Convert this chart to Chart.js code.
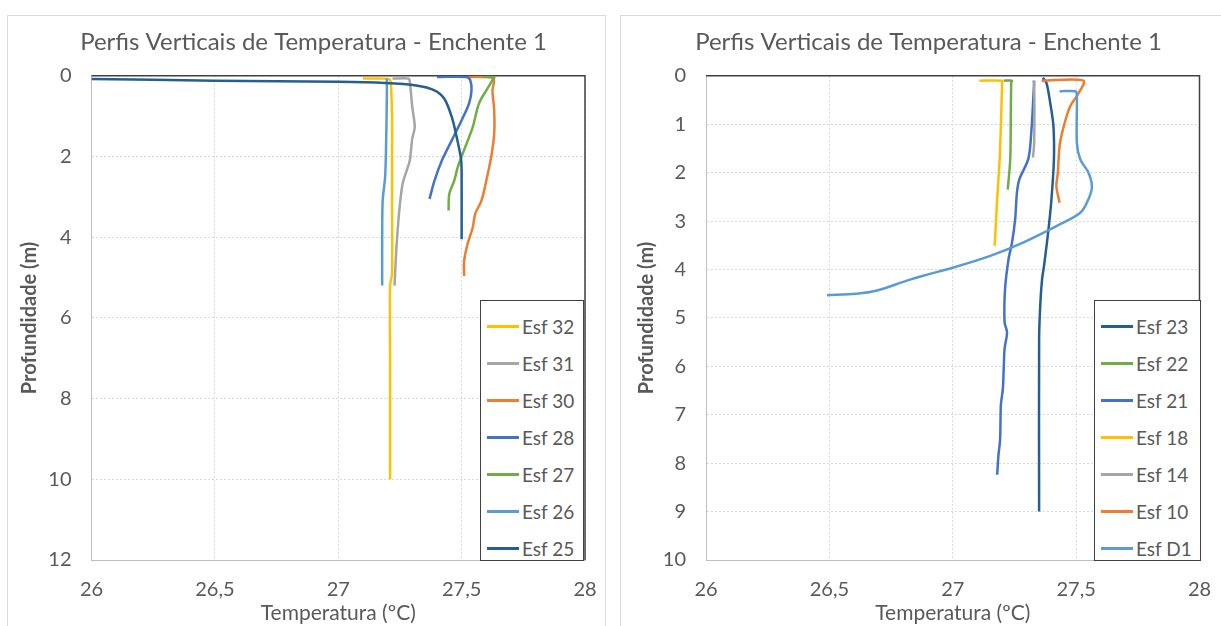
<!DOCTYPE html>
<html>
<head>
<meta charset="utf-8">
<script src="https://cdn.jsdelivr.net/npm/chart.js@4.4.1/dist/chart.umd.min.js"></script>
<style>
  body { margin: 0; background: #fff; width: 1221px; height: 626px; overflow: hidden; position: relative; font-family: Lato, sans-serif; }
  .panel { position: absolute; top: 15px; height: 640px; border: 1px solid #d9d9d9; background: #fff; }
  #panelA { left: 7px; width: 597px; }
  #panelB { left: 620px; width: 620px; }
  canvas { position: absolute; }
  #chartA { left: 8px; top: 16px; }
  #chartB { left: 621px; top: 16px; }
  .legend { position: absolute; border: 1.5px solid #404040; background: #fff; box-sizing: border-box; padding-top: 7px; }
  #legendA { left: 480px; top: 300px; width: 104px; height: 261px; }
  #legendB { left: 1094px; top: 300px; width: 107px; height: 261px; }
  .item { height: 37px; display: flex; align-items: center; font-size: 19px; color: #595959; }
  .swatch { width: 32px; height: 3px; margin: 0 3px 0 6px; }
</style>
</head>
<body>
<div class="panel" id="panelA"></div>
<div class="panel" id="panelB"></div>
<canvas id="chartA" width="596" height="610"></canvas>
<canvas id="chartB" width="600" height="610"></canvas>
<div class="legend" id="legendA"></div>
<div class="legend" id="legendB"></div>
<script>
  const chartTitle = 'Perfis Verticais de Temperatura - Enchente 1';
  const xTitle = 'Temperatura (ºC)';
  const yTitle = 'Profundidade (m)';

  // [temperatura, profundidade] pairs
  // left panel
  const esf32 = [[27.10,0.07],[27.19,0.07],[27.21,0.10],[27.215,0.45],[27.218,1.0],[27.218,2.0],[27.218,3.0],[27.218,4.9],[27.21,5.2],[27.21,7.0],[27.21,10.0]];
  const esf31 = [[27.22,0.07],[27.285,0.07],[27.29,0.15],[27.30,0.77],[27.31,1.27],[27.30,1.55],[27.29,2.1],[27.28,2.3],[27.26,2.7],[27.245,3.5],[27.235,4.35],[27.228,5.2]];
  const esf30 = [[27.52,0.03],[27.585,0.03],[27.63,0.08],[27.625,0.36],[27.632,0.86],[27.632,1.44],[27.62,2.0],[27.60,2.6],[27.58,3.1],[27.555,3.42],[27.545,3.76],[27.524,4.17],[27.51,4.6],[27.51,4.96]];
  const esf28 = [[27.40,0.03],[27.52,0.03],[27.535,0.11],[27.54,0.36],[27.53,0.69],[27.50,1.1],[27.46,1.6],[27.42,2.1],[27.39,2.6],[27.37,3.05]];
  const esf27 = [[27.585,0.03],[27.632,0.03],[27.625,0.11],[27.60,0.36],[27.57,0.69],[27.545,1.27],[27.52,1.68],[27.50,2.0],[27.484,2.27],[27.47,2.6],[27.45,2.93],[27.447,3.34]];
  const esf26 = [[27.197,0.07],[27.197,0.5],[27.194,1.68],[27.19,2.5],[27.18,3.1],[27.178,4.0],[27.178,5.2]];
  const esf25 = [[26.0,0.08],[26.5,0.12],[27.0,0.15],[27.19,0.18],[27.316,0.24],[27.39,0.36],[27.43,0.57],[27.46,1.02],[27.48,1.52],[27.498,2.09],[27.50,2.6],[27.50,4.05]];

  // right panel
  const esf23 = [[27.365,0.04],[27.38,0.15],[27.395,0.56],[27.408,1.04],[27.41,1.73],[27.40,2.55],[27.388,3.17],[27.37,3.92],[27.362,4.2],[27.355,4.7],[27.35,5.44],[27.35,9.0]];
  const esf22 = [[27.206,0.1],[27.24,0.1],[27.237,0.14],[27.235,1.04],[27.233,1.73],[27.223,2.35]];
  const esf21 = [[27.33,0.1],[27.325,0.6],[27.32,1.04],[27.307,1.7],[27.27,2.14],[27.26,2.42],[27.253,2.96],[27.24,3.45],[27.226,3.79],[27.212,4.4],[27.21,5.09],[27.22,5.3],[27.21,5.64],[27.206,6.12],[27.203,6.47],[27.195,6.8],[27.192,7.5],[27.185,7.85],[27.18,8.24]];
  const esf18 = [[27.108,0.1],[27.199,0.1],[27.20,0.12],[27.195,1.04],[27.19,1.73],[27.18,2.55],[27.17,3.51]];
  const esf14 = [[27.325,0.1],[27.33,0.15],[27.33,1.38],[27.325,1.69]];
  const esf10 = [[27.36,0.1],[27.53,0.1],[27.51,0.36],[27.476,0.63],[27.45,1.04],[27.433,1.45],[27.426,2.0],[27.42,2.28],[27.433,2.62]];
  const esfD1 = [[27.433,0.32],[27.497,0.32],[27.503,0.4],[27.503,1.39],[27.517,1.73],[27.55,2.0],[27.564,2.28],[27.55,2.55],[27.517,2.83],[27.422,3.1],[27.287,3.44],[27.152,3.72],[27.003,3.96],[26.88,4.13],[26.814,4.23],[26.69,4.44],[26.61,4.5],[26.49,4.53]];

  const xTicks = [26, 26.5, 27, 27.5, 28];
  const yTicksA = [0, 2, 4, 6, 8, 10, 12];
  const yTicksB = [0, 1, 2, 3, 4, 5, 6, 7, 8, 9, 10];

  const seriesA = [
    { name: 'Esf 32', color: '#FFC000', data: esf32 },
    { name: 'Esf 31', color: '#A5A5A5', data: esf31 },
    { name: 'Esf 30', color: '#ED7D31', data: esf30 },
    { name: 'Esf 28', color: '#4472C4', data: esf28 },
    { name: 'Esf 27', color: '#70AD47', data: esf27 },
    { name: 'Esf 26', color: '#5B9BD5', data: esf26 },
    { name: 'Esf 25', color: '#255E91', data: esf25 }
  ];
  const seriesB = [
    { name: 'Esf 23', color: '#255E91', data: esf23 },
    { name: 'Esf 22', color: '#70AD47', data: esf22 },
    { name: 'Esf 21', color: '#4472C4', data: esf21 },
    { name: 'Esf 18', color: '#FFC000', data: esf18 },
    { name: 'Esf 14', color: '#A5A5A5', data: esf14 },
    { name: 'Esf 10', color: '#ED7D31', data: esf10 },
    { name: 'Esf D1', color: '#5B9BD5', data: esfD1 }
  ];

  const textColor = '#595959';

  // dark frame on top and right of the plot area, like the Excel plot border
  const frame = {
    id: 'frame',
    beforeDatasetsDraw(chart) {
      const { ctx, chartArea: a } = chart;
      ctx.save();
      ctx.strokeStyle = '#404040';
      ctx.lineWidth = 1.5;
      ctx.beginPath();
      ctx.moveTo(a.left, a.top);
      ctx.lineTo(a.right, a.top);
      ctx.lineTo(a.right, a.bottom);
      ctx.stroke();
      ctx.restore();
    }
  };

  // box: left padding (shifts the title), y axis width, y title offset, right padding
  function makeChart(id, series, yTicks, box) {
    const ctx = document.getElementById(id).getContext('2d');
    return new Chart(ctx, {
      type: 'scatter',
      data: {
        datasets: series.slice().reverse().map(s => ({
          label: s.name,
          data: s.data.map(p => ({ x: p[0], y: p[1] })),
          borderColor: s.color,
          backgroundColor: s.color,
          borderWidth: 2.5,
          showLine: true,
          tension: 0.3,
          pointRadius: 0
        }))
      },
      options: {
        responsive: false,
        animation: false,
        layout: { padding: { left: box.left, right: box.right, top: 0, bottom: 0 } },
        plugins: {
          legend: { display: false },
          tooltip: { enabled: false },
          title: {
            display: true,
            text: chartTitle,
            color: textColor,
            font: { family: 'Lato', size: 24, weight: 'normal' },
            padding: { top: 12, bottom: 19 }
          }
        },
        scales: {
          x: {
            type: 'linear',
            min: xTicks[0],
            max: xTicks[xTicks.length - 1],
            afterBuildTicks: axis => { axis.ticks = xTicks.map(v => ({ value: v })); },
            afterFit: axis => { axis.height = 66; axis.paddingLeft = 0; axis.paddingRight = 0; },
            grid: { color: '#d9d9d9', drawTicks: false },
            border: { color: '#bfbfbf', width: 1, dash: [2, 2] },
            ticks: {
              color: textColor,
              font: { family: 'Lato', size: 20 },
              padding: 18,
              callback: v => String(v).replace('.', ',')
            },
            title: {
              display: true,
              text: xTitle,
              color: textColor,
              font: { family: 'Lato', size: 21 },
              padding: { top: 0, bottom: 0 }
            }
          },
          y: {
            type: 'linear',
            reverse: true,
            min: yTicks[0],
            max: yTicks[yTicks.length - 1],
            afterBuildTicks: axis => { axis.ticks = yTicks.map(v => ({ value: v })); },
            afterFit: axis => { axis.width = box.yWidth; },
            grid: { color: '#d9d9d9', drawTicks: false },
            border: { color: '#bfbfbf', width: 1, dash: [2, 2] },
            ticks: {
              color: textColor,
              font: { family: 'Lato', size: 20 },
              padding: 20
            },
            title: {
              display: true,
              text: yTitle,
              color: textColor,
              font: { family: 'Lato', size: 20, weight: 'bold' },
              padding: { top: box.yTitle, bottom: 0 }
            }
          }
        }
      },
      plugins: [frame]
    });
  }

  function makeLegend(id, series) {
    const box = document.getElementById(id);
    series.forEach(s => {
      const item = document.createElement('div');
      item.className = 'item';
      item.innerHTML = `<span class="swatch" style="background:${s.color}"></span><span>${s.name}</span>`;
      box.appendChild(item);
    });
  }

  makeChart('chartA', seriesA, yTicksA, { left: 34, yWidth: 49.5, yTitle: -24, right: 19 });
  makeChart('chartB', seriesB, yTicksB, { left: 36.5, yWidth: 48.5, yTitle: -23, right: 21.5 });
  makeLegend('legendA', seriesA);
  makeLegend('legendB', seriesB);
</script>
</body>
</html>
